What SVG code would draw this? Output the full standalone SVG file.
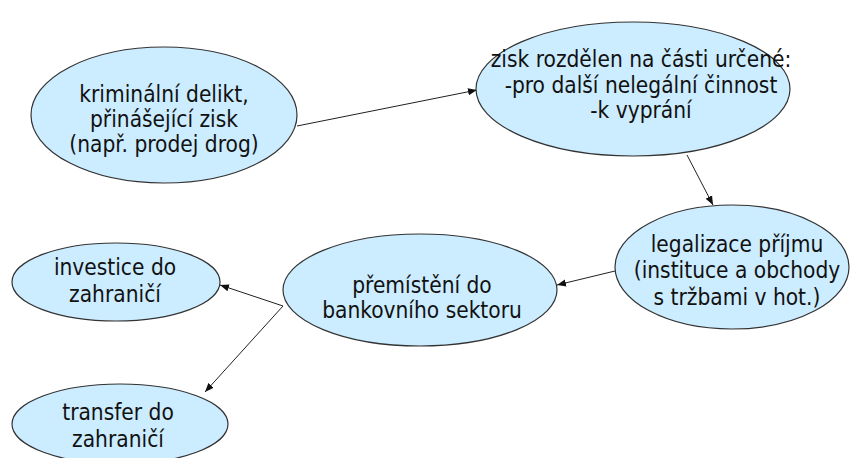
<svg xmlns="http://www.w3.org/2000/svg" width="851" height="458" viewBox="0 0 851 458">
<style>
.n ellipse{fill:#CCECFF;stroke:#333;stroke-width:1.2}
.n text{font-family:"DejaVu Sans Condensed","DejaVu Sans",sans-serif;font-size:22.5px;fill:#111;text-anchor:middle}
.c line{stroke:#222;stroke-width:1;marker-end:url(#ah)}
</style>
<defs>
<marker id="ah" viewBox="0 0 10 10" refX="10" refY="5" markerWidth="9" markerHeight="9" markerUnits="userSpaceOnUse" orient="auto">
<path d="M0,1 L10,5 L0,9 z" fill="#111"/>
</marker>
</defs>
<rect width="851" height="458" fill="#fff"/>
<g class="c">
<line x1="297" y1="126" x2="477" y2="90"/>
<line x1="687" y1="155" x2="713" y2="205"/>
<line x1="615" y1="271" x2="557" y2="285"/>
<line x1="283" y1="306" x2="220" y2="285"/>
<line x1="283" y1="306" x2="205" y2="392"/>
</g>
<g class="n" id="n1">
<ellipse cx="164" cy="115" rx="133" ry="68"/>
<text x="164" y="102">kriminální delikt,</text>
<text x="164" y="127">přinášející zisk</text>
<text x="164" y="152">(např. prodej drog)</text>
</g>
<g class="n" id="n2">
<ellipse cx="633" cy="89" rx="157" ry="67"/>
<text x="641" y="67">zisk rozdělen na části určené:</text>
<text x="641" y="93">-pro další nelegální činnost</text>
<text x="641" y="118">-k vyprání</text>
</g>
<g class="n" id="n3">
<ellipse cx="732" cy="267" rx="117" ry="62"/>
<text x="737" y="252">legalizace příjmu</text>
<text x="737" y="278">(instituce a obchody</text>
<text x="737" y="305">s tržbami v hot.)</text>
</g>
<g class="n" id="n4">
<ellipse cx="420" cy="290" rx="137" ry="56"/>
<text x="422" y="293">přemístění do</text>
<text x="422" y="318">bankovního sektoru</text>
</g>
<g class="n" id="n5">
<ellipse cx="116" cy="282" rx="104" ry="39"/>
<text x="115" y="275">investice do</text>
<text x="115" y="302">zahraničí</text>
</g>
<g class="n" id="n6">
<ellipse cx="120" cy="424" rx="108" ry="40"/>
<text x="118" y="420">transfer do</text>
<text x="118" y="447">zahraničí</text>
</g>
</svg>
